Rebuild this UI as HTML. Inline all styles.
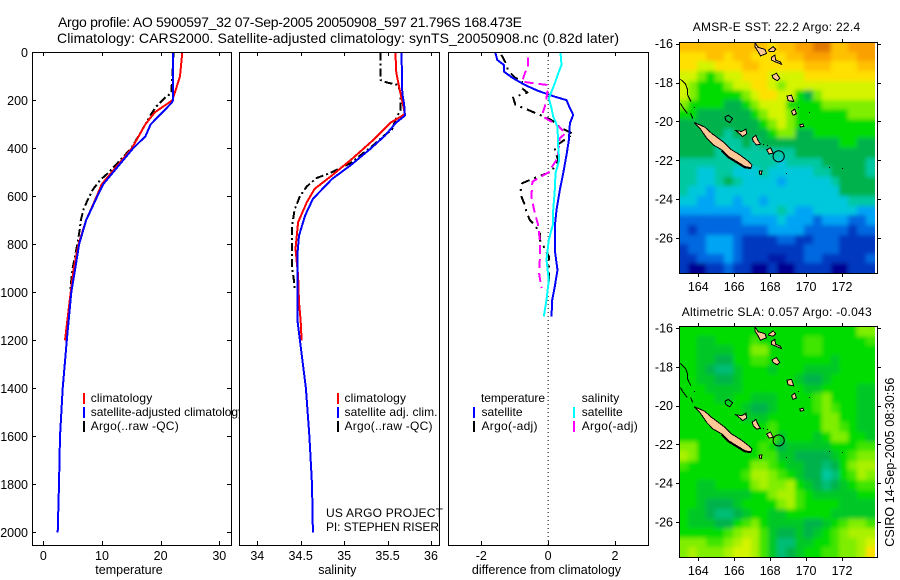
<!DOCTYPE html>
<html lang="en">
<head>
<meta charset="utf-8">
<title>Argo profile 5900597_32</title>
<style>
html,body{margin:0;padding:0;background:#fff;}
body{width:900px;height:580px;overflow:hidden;}
svg{display:block;}
text{font-family:"Liberation Sans",sans-serif;fill:#000;}
</style>
</head>
<body>
<svg id="fig" xmlns="http://www.w3.org/2000/svg" width="900" height="580" viewBox="0 0 900 580">
<defs>
<clipPath id="clip-t"><rect x="32" y="52" width="207" height="528"/></clipPath>
<clipPath id="clip-m1"><rect x="679" y="42" width="198" height="232"/></clipPath>
<clipPath id="clip-m2"><rect x="679" y="326" width="198" height="231"/></clipPath>
<clipPath id="clip-img1"><rect x="679" y="42" width="196" height="232"/></clipPath>
<clipPath id="clip-img2"><rect x="679" y="326" width="196" height="231"/></clipPath>
<filter id="soften" filterUnits="userSpaceOnUse" x="650" y="0" width="250" height="580"><feGaussianBlur stdDeviation="2"/></filter>
</defs>
<text x="58" y="27" font-size="14" textLength="464">Argo profile: AO 5900597_32 07-Sep-2005 20050908_597 21.796S 168.473E</text>
<text x="57" y="43" font-size="14" textLength="562">Climatology: CARS2000. Satellite-adjusted climatology: synTS_20050908.nc (0.82d later)</text>
<g id="layer"></g>
<g>
<rect x="83" y="393" width="2" height="11" fill="#f00"/><text x="90.7" y="402" font-size="12" textLength="61.5">climatology</text>
<rect x="83" y="407" width="2" height="11" fill="#00f"/><text x="90.7" y="416" font-size="12" clip-path="url(#clip-t)">satellite-adjusted climatology</text>
<rect x="83" y="421" width="2" height="11" fill="#000"/><text x="90.7" y="430" font-size="12" textLength="88">Argo(..raw -QC)</text>
</g>
<g>
<rect x="337" y="393" width="2" height="11" fill="#f00"/><text x="344.5" y="402" font-size="12" textLength="61.5">climatology</text>
<rect x="337" y="407" width="2" height="11" fill="#00f"/><text x="344.5" y="416" font-size="12" textLength="93">satellite adj. clim.</text>
<rect x="337" y="421" width="2" height="11" fill="#000"/><text x="344.5" y="430" font-size="12" textLength="88">Argo(..raw -QC)</text>
<text x="326" y="517" font-size="12" textLength="117">US ARGO PROJECT</text>
<text x="326" y="531" font-size="12" textLength="113">PI: STEPHEN RISER</text>
</g>
<g>
<text x="481" y="402" font-size="12" textLength="64">temperature</text>
<rect x="473" y="407" width="2" height="11" fill="#00f"/><text x="481.5" y="416" font-size="12" textLength="41">satellite</text>
<rect x="473" y="421" width="2" height="11" fill="#000"/><text x="481.5" y="430" font-size="12" textLength="56">Argo(-adj)</text>
<text x="581.7" y="402" font-size="12" textLength="37.5">salinity</text>
<rect x="573" y="407" width="2" height="11" fill="#0ff"/><text x="581.7" y="416" font-size="12" textLength="41">satellite</text>
<rect x="573" y="421" width="2" height="11" fill="#f0f"/><text x="581.7" y="430" font-size="12" textLength="56">Argo(-adj)</text>
</g>
<text x="692.7" y="31" font-size="12" textLength="167.5">AMSR-E SST: 22.2 Argo: 22.4</text>
<text x="681.7" y="316" font-size="12" textLength="190">Altimetric SLA: 0.057 Argo: -0.043</text>
<text transform="translate(894,546.7) rotate(-90)" font-size="12.5" textLength="169">CSIRO 14-Sep-2005 08:30:56</text>
</svg>
<script>
// ---------- profile data ----------
const depthTicks = [0,200,400,600,800,1000,1200,1400,1600,1800,2000];
const tempTicks = [0,10,20,30];
const salTicks = [34,34.5,35,35.5,36];
const diffTicks = [-2,0,2];

const tempClimDepth = [0,100,200,250,300,400,500,550,600,700,800,900,1000,1200];
const tempClim = [23.7,23.3,22.0,19.0,17.4,15.1,11.65,9.95,9.1,7.3,6.0,5.2,4.67,3.7];
const tempSatDepth = [0,200,210,300,350,400,500,550,600,700,800,900,1000,1200,1400,1600,1800,2000];
const tempSat = [22.1,22.1,21.9,18.3,17.4,15.3,11.9,10.2,9.2,7.3,6.1,5.45,4.77,4.0,3.3,2.85,2.67,2.45];
const tempArgoDepth = [0,100,170,190,225,260,300,400,504,532,570,600,650,700,740,800,900,1000];
const tempArgo = [22.2,22.0,21.8,20.7,19.3,18.3,17.4,15.0,11.0,9.7,8.5,7.85,6.9,6.4,6.2,5.8,5.0,4.55];

const salClimDepth = [0,85,140,223,257,271,292,361,444,513,569,625,708,819,930,1040,1123,1200];
const salClim = [35.59,35.60,35.63,35.68,35.70,35.64,35.54,35.35,35.09,34.86,34.66,34.57,34.47,34.44,34.47,34.48,34.50,34.51];
const salSatDepth = [0,171,215,264,292,347,403,472,528,611,680,764,847,1125,1200,1400,1600,1800,2000];
const salSat = [35.66,35.67,35.69,35.70,35.60,35.47,35.30,35.07,34.86,34.64,34.55,34.48,34.46,34.465,34.49,34.56,34.60,34.63,34.64];
const salArgoDepth = [0,115,126,136,171,240,274,322,350,392,462,503,524,559,600,656,725,808,892,947,990];
const salArgo = [35.42,35.42,35.49,35.62,35.65,35.65,35.60,35.55,35.45,35.32,35.07,34.84,34.68,34.57,34.49,34.43,34.40,34.40,34.40,34.42,34.43];

const diffTempSatDepth = [1,32,53,81,108,136,161,175,185,199,233,261,296,365,428,504,574,657,726,824,907,976,1032,1101];
const diffTempSat = [-1.58,-1.52,-1.32,-1.32,-1.05,-0.70,-0.30,0,0.20,0.55,0.65,0.75,0.65,0.62,0.55,0.45,0.35,0.25,0.20,0.20,0.28,0.20,0.12,0.10];
const diffSalSatDepth = [1,53,88,129,164,192,233,268,310,393,449,504,574,657,713,782,865,949,1032,1101];
const diffSalSat = [0.37,0.40,0.30,0.20,0.10,0.02,0.10,0.15,0.28,0.30,0.33,0.22,0.20,0.15,0.15,0.02,-0.05,0.02,-0.05,-0.13];
const diffTempArgoDepth = [11,49,76,104,122,150,168,188,219,233,261,282,313,340,393,407,449,497,518,532,546,574,601,636,664,699,719,754,782,813,851,907,963];
const diffTempArgo = [-1.40,-1.25,-1.20,-1.00,-0.78,-0.78,-0.62,-1.05,-0.98,-0.72,-0.25,0.10,0.35,0.75,0.20,0.20,0.30,0.10,-0.30,-0.55,-0.78,-0.82,-0.80,-0.70,-0.65,-0.55,-0.40,-0.25,-0.25,-0.12,0.02,0.02,0.02];
const diffSalArgoDepth = [21,60,88,122,126,136,157,192,226,247,268,289,313,338,358,442,476,497,521,539,601,657,719,782,865,921,983];
const diffSalArgo = [-0.60,-0.60,-0.70,-0.78,-0.60,-0.05,-0.02,-0.05,-0.10,-0.15,-0.15,0.10,0.35,0.52,0.35,0.28,0.12,0.05,-0.25,-0.47,-0.50,-0.42,-0.30,-0.25,-0.25,-0.27,-0.20];

// ---------- map data: 0.5-degree cells, north to south, colour level values ----------
const sstGrid = [
[11,11,11,11,11,11,11,11,11,11,10,11,11,12,12,13,13,11,11,12,12,12],
[10,10,10,11,11,10,11,11,10,10,10,10,11,11,12,12,12,11,11,11,12,12],
[10,10,9,9,10,10,10,11,11,10,10,10,10,10,11,11,11,10,10,10,11,11],
[9,9,8,7,8,9,9,10,10,10,9,9,9,9,10,10,10,10,10,10,10,10],
[9,8,7,7,7,8,9,9,10,10,9,8,9,9,9,9,9,9,9,9,9,9],
[9,8,7,7,7,7,7,8,9,10,10,9,9,7,6,8,9,9,9,9,9,9],
[8,7,7,7,7,6,6,7,8,9,9,9,7,7,7,7,8,8,8,8,8,8],
[7,7,6,6,6,6,6,6,7,8,9,9,8,7,7,7,7,7,7,8,8,8],
[6,6,6,6,6,6,6,6,6,7,8,9,8,7,7,7,7,7,7,7,7,7],
[6,6,6,6,6,5,6,6,6,6,7,8,8,6,6,7,7,7,7,7,7,7],
[6,6,6,6,5,5,5,6,5,6,6,6,6,6,6,6,6,6,7,7,6,6],
[6,6,6,6,5,5,5,5,5,5,5,5,5,6,6,6,6,6,6,6,6,6],
[5,5,5,5,5,5,5,5,5,5,5,4,5,5,5,5,6,6,6,6,6,5],
[5,5,4,4,5,5,4,4,4,5,4,4,4,4,4,5,5,6,6,6,6,5],
[5,5,4,4,5,6,5,4,4,4,4,3,4,4,4,4,4,5,6,6,6,6],
[5,4,4,3,4,4,4,4,4,4,4,4,4,4,4,4,4,4,6,6,6,6],
[4,4,3,3,4,4,3,4,4,3,4,4,4,4,4,4,4,4,4,5,5,5],
[3,3,3,3,3,3,3,3,4,4,4,5,4,3,3,4,4,4,4,4,3,3],
[2,2,2,2,2,2,2,3,3,3,3,4,3,3,3,2,3,3,3,2,2,3],
[2,1,2,2,2,2,2,2,2,2,3,3,3,3,2,2,2,2,2,1,2,2],
[2,2,2,3,3,3,2,1,1,1,1,2,2,1,1,2,2,2,1,1,1,1],
[1,2,2,3,3,3,2,1,1,1,1,1,1,1,2,2,2,2,1,1,1,1],
[1,1,2,2,2,3,2,1,1,1,0.5,0.5,1,1,2,2,1,1,1,1,1,2],
[1,0,0,1,1,2,1,1,0,0,1,0,0,1,1,1,1,0,0,1,1,1]
];
const slaGrid = [
[7,7,7,7,7,7,7,7,7,7,7,7,7,7,7,7,7,7,7,7,8,8],
[7,7,6.5,6.5,7,7,7,7,7.5,7,7,7,7,7,7.5,7.5,7,7,7,7,7,7.5],
[7,7,6.5,6.5,6.5,6.5,7,7,8,8,7,7,7,7,7.5,7.5,7,7,7,7,7,7],
[7,7,6.5,6.5,6,6,7,7,7.5,7.5,7,7,7,7,7,7,7,6.5,7,7,7,7],
[7,7,6.5,6,5.5,5.5,6.5,7,7,7,6.5,7,7,7,6.5,6.5,6.5,6.5,7,7,7,7],
[7,7,6.5,6.5,6,6,6.5,7,7,7,7,7,7,6.5,6,6,6.5,7,7,7,7,7],
[7,7,7,6.5,6.5,6.5,6.5,7,7,7,7,7,7,7,6.5,6.5,7,7,7,7,6.5,6.5],
[7,7,7,7,6.5,6.5,7,7,6.5,6.5,6.5,7,7,7,7,7.5,8,7,7,7,6.5,6.5],
[7,7,7,7,7,7,7,6.5,6,6,6.5,7,7,7,7,7.5,8,7.5,7,7,6.5,6.5],
[7,7,7,7,7,7,7,6.5,6.5,6.5,7,7,7,7,7,7,8,8,7,7,6.5,6.5],
[7,7,7,7,7,7,7,7,7,7,7.5,7,7,7,7,7,8,8,7.5,7,6.5,6.5],
[7,7,7,7,7,7,7,7,7,7,7.5,6.5,7,7,7,6.5,7,8,8,7,7,6.5],
[8,8,7,7,7,7,7,7,7,7.5,7,6,6.5,6.5,6.5,6.5,6.5,7,7,7,7.5,7.5],
[8.5,8,7,7,7,7,7,7,7,7.5,7.5,6.5,6.5,6,6,6,6,6.5,7,7.5,8,8],
[7.5,7,7,7,7,7,7,7,8,8,7.5,7,6.5,6.5,6,6,5.5,6,7,8,8.5,8.5],
[7,7,7,7,7,7,7,7.5,8.5,8.5,8,7.5,7,6.5,6,6,5,5.5,7,7.5,8.5,8],
[7,7,6.5,6.5,7,7,7,7,8,8.5,8,8,8.5,7,6.5,6,5.5,6,6.5,7,7.5,7.5],
[7,7,6.5,6.5,6.5,6.5,6.5,6.5,7,7,8,8.5,8.5,7.5,7,6.5,6.5,6.5,6.5,6.5,7,7],
[7,7,6.5,6,6,6,6.5,7,7,7,7,8,8.5,7.5,7,7,7,7,6.5,6.5,6.5,6.5],
[7,6.5,6.5,6,5.5,5.5,6,6.5,7,7,6.5,6.5,7,7,7,7,7,6.5,6.5,6.5,6.5,6.5],
[7,6.5,6.5,6.5,6,6,7,7.5,8,7,6.5,6.5,6.5,6.5,6,6,6.5,7,7.5,8,8,7.5],
[7,7,7,7,7,7.5,8,8.5,8.5,7.5,6.5,6,6,6.5,6,6.5,7,7.5,8,8.5,8.5,8.5],
[8,8,8,7.5,7.5,8,8.5,9,8.5,7.5,6.5,5.5,5.5,6.5,6.5,7,7,7.5,8,8,8.5,9],
[8,8.5,8,8,8,8.5,9,9,8.5,7.5,6.5,5.5,6,6.5,7,7,7.5,7.5,8,8,8.5,10]
];
const lonTicks = [164,166,168,170,172];
const latTicks = [-16,-18,-20,-22,-24,-26];
const floatLon = 168.473;
const floatLat = -21.796;
// coastlines as [lon, lat] vertices
const landFilled = [
[[163.78,-20.06],[164.09,-20.18],[164.37,-20.30],[164.74,-20.61],[165.11,-20.86],[165.48,-21.12],[165.85,-21.46],[166.31,-21.72],[166.69,-21.98],[166.99,-22.23],[166.93,-22.40],[166.59,-22.32],[166.13,-22.06],[165.67,-21.80],[165.30,-21.46],[164.83,-21.21],[164.46,-20.86],[164.09,-20.35]],
[[167.15,-15.93],[167.33,-16.19],[167.70,-16.29],[167.80,-16.50],[167.46,-16.63],[167.28,-16.33],[167.15,-16.15]],
[[167.91,-16.33],[168.17,-16.15],[168.31,-16.29],[168.20,-16.41],[167.94,-16.39]],
[[168.07,-16.70],[168.26,-16.58],[168.31,-16.84],[168.57,-16.94],[168.63,-17.06],[168.26,-16.92],[168.07,-16.84]],
[[168.11,-17.64],[168.35,-17.52],[168.54,-17.78],[168.39,-17.90],[168.17,-17.78]],
[[168.94,-18.69],[169.19,-18.65],[169.31,-18.98],[169.0,-18.93]],
[[169.19,-19.49],[169.37,-19.36],[169.46,-19.61],[169.28,-19.68]],
[[169.65,-20.18],[169.83,-20.13],[169.87,-20.26],[169.69,-20.28]],
[[166.09,-20.47],[166.41,-20.52],[166.65,-20.40],[166.69,-20.64],[166.46,-20.78],[166.31,-20.64]],
[[167.0,-20.86],[167.2,-20.71],[167.33,-20.98],[167.46,-21.17],[167.24,-21.21],[167.06,-21.03]],
[[167.80,-21.46],[168.02,-21.36],[168.17,-21.63],[167.94,-21.67]],
[[167.39,-22.56],[167.54,-22.54],[167.52,-22.73],[167.41,-22.70]]
];
const mainlandSouthCoast = [[165.30,-21.50],[165.67,-21.84],[166.13,-22.10],[166.59,-22.36],[166.93,-22.40]];
const atollOutline = [[165.48,-19.78],[165.67,-19.68],[165.91,-19.85],[165.76,-20.06],[165.54,-19.96],[165.48,-19.78]];
const reefLines = [
[[163.0,-17.82],[163.28,-18.07],[163.41,-18.38],[163.41,-18.64],[163.59,-18.98]],
[[163.0,-19.07],[163.17,-19.32],[163.39,-19.58]],
[[163.57,-19.58],[163.69,-19.84]]
];
const tinyIslands = [[168.89,-22.63],[171.28,-22.35],[172.0,-22.40],[170.17,-19.54],[169.54,-19.27],[163.78,-19.27],[167.6,-21.17],[167.85,-21.2]];

const layer = document.getElementById('layer');
const NS = 'http://www.w3.org/2000/svg';
function mk(tag, attrs, parent) {
  const el = document.createElementNS(NS, tag);
  for (const k in attrs) el.setAttribute(k, attrs[k]);
  (parent || layer).appendChild(el);
  return el;
}
function group(name) {
  const g = mk('g', {});
  
  
  return g;
}
function label(parent, x, y, str, anchor, size) {
  const t = mk('text', {x: x, y: y, 'font-size': size || 12.5, 'text-anchor': anchor || 'middle'}, parent);
  t.textContent = str;
  return t;
}
const depthY = d => 52.3 + d * 0.24;
const PANEL_TOP = 52, PANEL_BOTTOM = 545;

function linear(v0, x0, v1, x1) { return v => x0 + (v - v0) * (x1 - x0) / (v1 - v0); }
const xTemp = linear(0, 43.3, 30, 219.3);
const xSal = linear(34, 257.3, 36, 431);
const xDiff = linear(-2, 481.3, 2, 615);

function drawLine(parent, depths, values, xf, color, width, dash, name) {
  const pts = values.map((v, i) => xf(v).toFixed(1) + ',' + depthY(depths[i]).toFixed(1)).join(' ');
  const a = {points: pts, fill: 'none', stroke: color, 'stroke-width': width, 'stroke-linejoin': 'round', 'shape-rendering': 'crispEdges'};
  if (dash) a['stroke-dasharray'] = dash;
  const l = mk('polyline', a, parent);
  
  
}

function panel(name, left, right, xf, ticks, title, titleX, showDepth) {
  const g = group(name);
  mk('rect', {x: left, y: PANEL_TOP, width: right - left, height: PANEL_BOTTOM - PANEL_TOP, fill: '#fff', stroke: 'none'}, g);
  return {g, left, right, xf, ticks, title, titleX, showDepth, name};
}
function finishPanel(p) {
  const axes = group(p.name + '-axes');
  mk('rect', {x: p.left + 0.5, y: PANEL_TOP + 0.5, width: p.right - p.left, height: PANEL_BOTTOM - PANEL_TOP, fill: 'none', stroke: '#000', 'stroke-width': 1, 'shape-rendering': 'crispEdges'}, axes);
  p.ticks.forEach(t => {
    const x = Math.round(p.xf(t)) + 0.5;
    mk('line', {x1: x, x2: x, y1: PANEL_BOTTOM, y2: PANEL_BOTTOM - 4, stroke: '#000', 'shape-rendering': 'crispEdges'}, axes);
    mk('line', {x1: x, x2: x, y1: PANEL_TOP, y2: PANEL_TOP + 4, stroke: '#000', 'shape-rendering': 'crispEdges'}, axes);
    const s = label(axes, p.xf(t), 560, String(t));
    
    
  });
  const tt = label(axes, p.titleX, 574, p.title, 'middle', 12.5);
  
  
  if (p.showDepth) {
    depthTicks.forEach(d => {
      const y = Math.round(depthY(d)) + 0.5;
      mk('line', {x1: p.left, x2: p.left + 4, y1: y, y2: y, stroke: '#000', 'shape-rendering': 'crispEdges'}, axes);
      mk('line', {x1: p.right, x2: p.right - 4, y1: y, y2: y, stroke: '#000', 'shape-rendering': 'crispEdges'}, axes);
      const s = label(axes, 28, depthY(d) + 4.5, String(d), 'end');
      
      
    });
  }
}

const DASHDOT = '8 3 2 3';
const p1 = panel('temperature-panel', 32, 231, xTemp, tempTicks, 'temperature', 129, true);
drawLine(p1.g, tempArgoDepth, tempArgo, xTemp, '#000', 2, DASHDOT, 'temperature-argo-line');
drawLine(p1.g, tempClimDepth, tempClim, xTemp, '#f00', 2, null, 'temperature-climatology-line');
drawLine(p1.g, tempSatDepth, tempSat, xTemp, '#00f', 2, null, 'temperature-satellite-line');
finishPanel(p1);

const p2 = panel('salinity-panel', 239, 439, xSal, salTicks, 'salinity', 337.3, false);
drawLine(p2.g, salArgoDepth, salArgo, xSal, '#000', 2, DASHDOT, 'salinity-argo-line');
drawLine(p2.g, salClimDepth, salClim, xSal, '#f00', 2, null, 'salinity-climatology-line');
drawLine(p2.g, salSatDepth, salSat, xSal, '#00f', 2, null, 'salinity-satellite-line');
finishPanel(p2);

const p3 = panel('difference-panel', 448, 648, xDiff, diffTicks, 'difference from climatology', 546.5, false);
const zero = mk('line', {x1: xDiff(0), x2: xDiff(0), y1: PANEL_TOP, y2: PANEL_BOTTOM, stroke: '#000', 'stroke-width': 1, 'stroke-dasharray': '1 3'}, p3.g);


drawLine(p3.g, diffTempArgoDepth, diffTempArgo, xDiff, '#000', 2, '9 5 2 5', 'difference-temperature-argo-line');
drawLine(p3.g, diffTempSatDepth, diffTempSat, xDiff, '#00f', 2, null, 'difference-temperature-satellite-line');
drawLine(p3.g, diffSalArgoDepth, diffSalArgo, xDiff, '#f0f', 2, '9 5', 'difference-salinity-argo-line');
drawLine(p3.g, diffSalSatDepth, diffSalSat, xDiff, '#0ff', 2, null, 'difference-salinity-satellite-line');
finishPanel(p3);

// ---------- maps ----------
const colourStops = ['#000090','#0038c0','#0068e0','#00a4f4','#00c8dc','#00c8a0','#00b24c','#00dc00','#80ee00','#d4f400','#ffe000','#ffc000','#faa000','#e07800'];
function hex(c, i) { return parseInt(c.substr(1 + i * 2, 2), 16); }
function levelColour(v) {
  const n = colourStops.length - 1;
  const c = Math.max(0, Math.min(n, v));
  const i = Math.min(n - 1, Math.floor(c));
  const f = c - i;
  const out = [0, 1, 2].map(k => Math.round(hex(colourStops[i], k) * (1 - f) + hex(colourStops[i + 1], k) * f));
  return 'rgb(' + out.join(',') + ')';
}

function drawMap(name, grid, top, bottom, lat16Y, lat26Y, clipId, imgClipId) {
  const g = group(name);
  const lonX = linear(164, 698.3, 172, 842);
  const latY = linear(-16, lat16Y, -26, lat26Y);
  const imgLeft = 679.5, imgRight = 875;
  const cw = (imgRight - imgLeft) / grid[0].length;
  const ch = (bottom - top) / grid.length;
  const heatClip = group(name + '-heatmap');
  g.appendChild(heatClip);
  heatClip.setAttribute('clip-path', 'url(#' + imgClipId + ')');
  const heat = mk('g', {filter: 'url(#soften)'}, heatClip);
  const lastC = grid[0].length - 1, lastR = grid.length - 1;
  grid.forEach((row, r) => {
    row.forEach((v, c) => {
      // outer cells overhang the clip so the softening does not fade at the edges
      const x0 = c === 0 ? imgLeft - 12 : Math.round(imgLeft + c * cw);
      const x1 = c === lastC ? imgRight + 12 : Math.round(imgLeft + (c + 1) * cw);
      const y0 = r === 0 ? top - 12 : Math.round(top + r * ch);
      const y1 = r === lastR ? bottom + 12 : Math.round(top + (r + 1) * ch);
      mk('rect', {x: x0, y: y0, width: x1 - x0, height: y1 - y0, fill: levelColour(v), 'shape-rendering': 'crispEdges'}, heat);
    });
  });
  const land = group(name + '-coastline');
  g.appendChild(land);
  land.setAttribute('clip-path', 'url(#' + clipId + ')');
  const path = pts => pts.map(p => lonX(p[0]).toFixed(1) + ',' + latY(p[1]).toFixed(1)).join(' ');
  landFilled.forEach(poly => {
    mk('polygon', {points: path(poly), fill: '#ffc896', stroke: '#000', 'stroke-width': 1, 'shape-rendering': 'crispEdges'}, land);
  });
  mk('polyline', {points: path(mainlandSouthCoast), fill: 'none', stroke: '#000', 'stroke-width': 2, 'shape-rendering': 'crispEdges'}, land);
  mk('polyline', {points: path(atollOutline), fill: 'none', stroke: '#000', 'stroke-width': 1, 'shape-rendering': 'crispEdges'}, land);
  reefLines.forEach(l => {
    mk('polyline', {points: path(l), fill: 'none', stroke: '#000', 'stroke-width': 1, 'shape-rendering': 'crispEdges'}, land);
  });
  tinyIslands.forEach(p => {
    mk('rect', {x: Math.round(lonX(p[0])), y: Math.round(latY(p[1])), width: 1, height: 1, fill: '#000', 'shape-rendering': 'crispEdges'}, land);
  });
  const ring = mk('circle', {cx: lonX(floatLon), cy: latY(floatLat), r: 5.6, fill: 'none', stroke: '#000', 'stroke-width': 1}, g);
  
  
  const axes = group(name + '-axes');
  g.appendChild(axes);
  const L = 679, R = 877;
  mk('rect', {x: L + 0.5, y: top + 0.5, width: R - L, height: bottom - top, fill: 'none', stroke: '#000', 'shape-rendering': 'crispEdges'}, axes);
  lonTicks.forEach(t => {
    const x = Math.round(lonX(t)) + 0.5;
    mk('line', {x1: x, x2: x, y1: top, y2: top - 3, stroke: '#000', 'shape-rendering': 'crispEdges'}, axes);
    mk('line', {x1: x, x2: x, y1: bottom + 1, y2: bottom + 4, stroke: '#000', 'shape-rendering': 'crispEdges'}, axes);
    const s = label(axes, lonX(t), bottom + 18, String(t), 'middle', 12.5);
    
    
  });
  latTicks.forEach(t => {
    const y = Math.round(latY(t)) + 0.5;
    mk('line', {x1: L, x2: L - 3, y1: y, y2: y, stroke: '#000', 'shape-rendering': 'crispEdges'}, axes);
    mk('line', {x1: R + 1, x2: R + 4, y1: y, y2: y, stroke: '#000', 'shape-rendering': 'crispEdges'}, axes);
    const s = label(axes, 673, latY(t) + 4.5, '-' + Math.abs(t), 'end', 12.5);
    
    
  });
}
drawMap('sst-map', sstGrid, 42, 273, 43.7, 238, 'clip-m1', 'clip-img1');
drawMap('sla-map', slaGrid, 326, 557, 328, 522, 'clip-m2', 'clip-img2');
</script>
</body>
</html>
